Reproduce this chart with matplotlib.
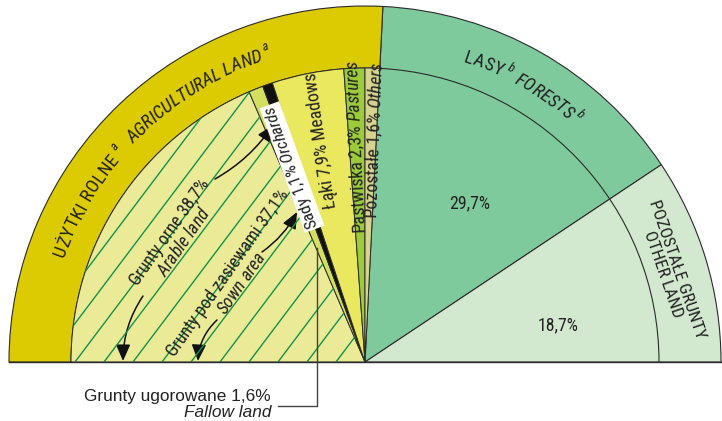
import matplotlib
matplotlib.use("Agg")
import matplotlib.pyplot as plt
import numpy as np
from matplotlib import font_manager
from matplotlib.font_manager import FontProperties
from matplotlib.patches import Wedge, Arc, FancyArrowPatch
from matplotlib.collections import LineCollection

# land use, % of total area (semicircle = 100%)
agri_names = ["Grunty pod zasiewami", "Grunty ugorowane", "Sady", "Łąki", "Pastwiska", "Pozostałe"]
agri_english = ["Sown area", "Fallow land", "Orchards", "Meadows", "Pastures", "Others"]
agri_values = [37.1, 1.6, 1.1, 7.9, 2.3, 1.6]
rest_values = [29.7, 18.7]  # forests, other land

agri_colors = ["#ebeb97", "#d3df5e", "#111111", "#eae85e", "#9ccb3c", "#d8d48f"]
rest_colors = ["#7fca9d", "#d2e8cf"]
ring_color = "#dccb00"
edge = "#2b2b2b"
dark = "#222222"

installed = {f.name for f in font_manager.fontManager.ttflist}
narrow = "Liberation Sans"
for cand in ["Liberation Sans Narrow", "Nimbus Sans Narrow", "Arial Narrow", "Roboto Condensed",
             "Archivo Narrow", "PT Sans Narrow", "Fira Sans Condensed", "IBM Plex Sans Condensed"]:
    if cand in installed:
        narrow = cand
        break
plt.rcParams["font.family"] = [narrow, "DejaVu Sans"]
plt.rcParams["mathtext.fontset"] = "custom"
plt.rcParams["mathtext.rm"] = narrow
plt.rcParams["mathtext.it"] = narrow + ":italic"


def pl(v):
    return f"{v:.1f}".replace(".", ",")


deg = 180 / 100.0
cx, cy = 365, 59
r_out, r_in = 356, 294

fig = plt.figure(figsize=(7.22, 4.21), dpi=100)
ax = fig.add_axes([0, 0, 1, 1])
ax.set_xlim(0, 722)
ax.set_ylim(0, 421)
ax.axis("off")
renderer = fig.canvas.get_renderer()

bounds = 180 - np.concatenate([[0], np.cumsum(agri_values)]) * deg
agri_end = bounds[-1]
rest_bounds = agri_end - np.concatenate([[0], np.cumsum(rest_values)]) * deg

for i, col in enumerate(rest_colors):
    ax.add_patch(Wedge((cx, cy), r_out, rest_bounds[i + 1], rest_bounds[i], fc=col, ec=edge, lw=0.8))
ax.add_patch(Arc((cx, cy), 2 * r_in, 2 * r_in, theta1=0, theta2=agri_end, color=edge, lw=0.8))
ax.add_patch(Wedge((cx, cy), r_out, agri_end, 180, width=r_out - r_in, fc=ring_color, ec=edge, lw=0.8))

wedges = []
for i, col in enumerate(agri_colors):
    w = Wedge((cx, cy), r_in, bounds[i + 1], bounds[i], fc=col, ec=edge, lw=0.7)
    ax.add_patch(w)
    wedges.append(w)

# diagonal hatch on sown area
t = np.radians(53)
segs = []
for b in np.arange(75 - 29 * 20, 380, 29.0):
    segs.append([(b, cy), (b + 500 * np.cos(t), cy + 500 * np.sin(t))])
hatch = LineCollection(segs, colors="#12924a", linewidths=1.0)
ax.add_collection(hatch)
hatch.set_clip_path(wedges[0])

ax.plot([cx - r_out, 722], [cy, cy], color=edge, lw=1.0)


# curved text along the outer ring
def text_width(s, fp):
    w1 = renderer.get_text_width_height_descent("x" + s + "x", fp, ismath=False)[0]
    w0 = renderer.get_text_width_height_descent("xx", fp, ismath=False)[0]
    return w1 - w0


def arc_text(s, r, start, fp, track=0.0):
    a = start
    for ch in s:
        half = np.degrees((text_width(ch, fp) + track) / 2 / r)
        a -= half
        x = cx + r * np.cos(np.radians(a))
        y = cy + r * np.sin(np.radians(a))
        ax.text(x, y, ch, fontproperties=fp, rotation=a - 90, ha="center", va="baseline",
                rotation_mode="anchor", color=dark)
        a -= half
    return a


fp_up = FontProperties(family=narrow, size=13.3)
fp_it = FontProperties(family=narrow, style="italic", size=13.3)
fp_sup = FontProperties(family=narrow, style="italic", size=9)

a = arc_text("UŻYTKI ROLNE", 318, 161.0, fp_up, track=0.5)
arc_text("a", 327, a - 0.6, fp_sup)
a = arc_text("AGRICULTURAL LAND", 318, 136.8, fp_it)
arc_text("a", 327, a - 0.6, fp_sup)
a = arc_text("LASY", 316, 72.0, fp_up, track=0.5)
arc_text("b", 325, a - 0.6, fp_sup)
a = arc_text("FORESTS", 316, 62.0, fp_it)
arc_text("b", 325, a - 0.6, fp_sup)

fs = 12.8
arable = agri_values[0] + agri_values[1]
ax.text(177, 184, f"Grunty orne {pl(arable)}%\n$\\mathit{{Arable\\ land}}$", rotation=55,
        ha="center", va="center", rotation_mode="anchor", fontsize=fs, linespacing=1.0, color=dark)
ax.text(235, 143, f"{agri_names[0]} {pl(agri_values[0])}%\n$\\mathit{{Sown\\ area}}$", rotation=55,
        ha="center", va="center", rotation_mode="anchor", fontsize=fs, linespacing=1.0, color=dark)
ax.text(292, 254, f"{agri_names[2]} {pl(agri_values[2])}% $\\mathit{{{agri_english[2]}}}$", rotation=110,
        ha="center", va="center", rotation_mode="anchor", fontsize=12.2, color=dark,
        bbox=dict(boxstyle="square,pad=0.05", fc="white", ec="none"))
ax.text(321, 281, f"{agri_names[3]} {pl(agri_values[3])}% {agri_english[3]}", rotation=98.5,
        ha="center", va="center", rotation_mode="anchor", fontsize=fs, color=dark)
ax.text(356.5, 274, f"{agri_names[4]} {pl(agri_values[4])}% $\\mathit{{{agri_english[4]}}}$", rotation=92.7,
        ha="center", va="center", rotation_mode="anchor", fontsize=fs, color=dark)
ax.text(374.5, 281, f"{agri_names[5]} {pl(agri_values[5])}% $\\mathit{{{agri_english[5]}}}$", rotation=87.9,
        ha="center", va="center", rotation_mode="anchor", fontsize=fs, color=dark)

ax.text(470, 218, f"{pl(rest_values[0])}%", ha="center", va="center", fontsize=fs, color=dark)
ax.text(558, 96, f"{pl(rest_values[1])}%", ha="center", va="center", fontsize=fs, color=dark)
ax.text(670, 149, "POZOSTAŁE GRUNTY\nOTHER LAND", rotation=-71, ha="center", va="center",
        rotation_mode="anchor", fontsize=12.4, linespacing=1.05, color=dark)


def arrow(p, q, rad):
    ax.add_patch(FancyArrowPatch(p, q, connectionstyle=f"arc3,rad={rad}",
                                 arrowstyle="-|>,head_length=0.5,head_width=0.22",
                                 mutation_scale=20, color="#111111", lw=1.1, shrinkA=0, shrinkB=0))


arrow((215, 242), (273, 296), 0.12)
arrow((143, 125), (123, 60), 0.15)
arrow((262, 169), (297, 209), 0.12)
arrow((217, 101), (198, 60), 0.2)

# fallow land callout
ax.plot([278, 317, 317], [15, 15, 173], color="#444444", lw=1.0)
ax.text(271, 20, f"{agri_names[1]} {pl(agri_values[1])}%", ha="right", va="baseline",
        family=["Liberation Sans", "DejaVu Sans"], fontsize=12.4, color=dark)
ax.text(271, 4, agri_english[1], ha="right", va="baseline", style="italic",
        family=["Liberation Sans", "DejaVu Sans"], fontsize=12.4, color=dark)

fig.savefig("out.png", dpi=100)
